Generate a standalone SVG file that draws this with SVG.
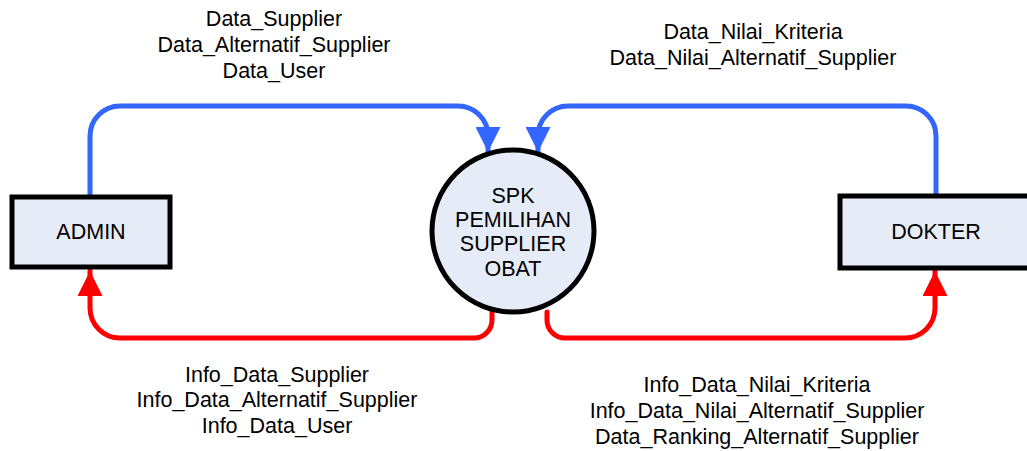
<svg xmlns="http://www.w3.org/2000/svg" width="1027" height="451" viewBox="0 0 1027 451">
  <style>
    .entity { fill: #E6ECF7; stroke: #000; stroke-width: 5; }
    .process { fill: #E6ECF7; stroke: #000; stroke-width: 5; }
    .label { font-family: "Liberation Sans", Arial, sans-serif; font-size: 21.5px; fill: #000; text-anchor: middle; }
    .flow-in { fill: none; stroke: #3366FF; stroke-width: 5; stroke-linecap: round; }
    .flow-out { fill: none; stroke: #FF0000; stroke-width: 5; stroke-linecap: round; }
  </style>
  <defs>
    <marker id="arrowBlue" viewBox="0 0 10 10" refX="10" refY="5" markerWidth="5" markerHeight="5" markerUnits="strokeWidth" orient="auto">
      <path d="M0,0 L10,5 L0,10 Z" fill="#3366FF"/>
    </marker>
    <marker id="arrowRed" viewBox="0 0 10 10" refX="10" refY="5" markerWidth="5" markerHeight="5" markerUnits="strokeWidth" orient="auto">
      <path d="M0,0 L10,5 L0,10 Z" fill="#FF0000"/>
    </marker>
  </defs>

  <!-- data flows -->
  <g id="connectors">
    <path class="flow-in" d="M90,197 V136 A30,30 0 0 1 120,106 H458 A30,30 0 0 1 488,136 V152" marker-end="url(#arrowBlue)"/>
    <path class="flow-in" d="M936,195 V136 A30,30 0 0 0 906,106 H568 A30,30 0 0 0 538,136 V152" marker-end="url(#arrowBlue)"/>
    <path class="flow-out" d="M492,312 V320 A18,18 0 0 1 474,338 H120 A30,30 0 0 1 90,308 V271" marker-end="url(#arrowRed)"/>
    <path class="flow-out" d="M547,312 V320 A18,18 0 0 0 565,338 H905 A30,30 0 0 0 935,308 V271" marker-end="url(#arrowRed)"/>
  </g>

  <g id="admin">
    <rect class="entity" x="12" y="197" width="158" height="70"/>
    <text class="label" x="91" y="239">ADMIN</text>
  </g>

  <g id="dokter">
    <rect class="entity" x="840" y="196" width="200" height="72"/>
    <text class="label" x="936" y="239">DOKTER</text>
  </g>

  <g id="spk">
    <circle class="process" cx="513" cy="231" r="81"/>
    <text class="label" x="513" y="203">SPK</text>
    <text class="label" x="513" y="227">PEMILIHAN</text>
    <text class="label" x="513" y="251">SUPPLIER</text>
    <text class="label" x="513" y="276">OBAT</text>
  </g>

  <!-- flow labels -->
  <g id="labels">
    <text class="label" x="274" y="26">Data_Supplier</text>
    <text class="label" x="274" y="52">Data_Alternatif_Supplier</text>
    <text class="label" x="274" y="78">Data_User</text>

    <text class="label" x="753" y="39">Data_Nilai_Kriteria</text>
    <text class="label" x="753" y="65">Data_Nilai_Alternatif_Supplier</text>

    <text class="label" x="277" y="382">Info_Data_Supplier</text>
    <text class="label" x="277" y="407">Info_Data_Alternatif_Supplier</text>
    <text class="label" x="277" y="433">Info_Data_User</text>

    <text class="label" x="757" y="392">Info_Data_Nilai_Kriteria</text>
    <text class="label" x="757" y="418">Info_Data_Nilai_Alternatif_Supplier</text>
    <text class="label" x="757" y="444">Data_Ranking_Alternatif_Supplier</text>
  </g>
</svg>
